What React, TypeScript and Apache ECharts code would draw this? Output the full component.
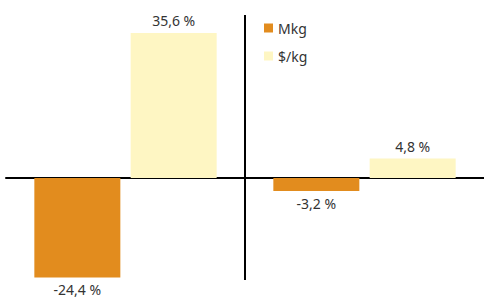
import React, { useEffect, useRef } from "react";
import * as echarts from "echarts";

const categories = ["A", "B"];
const seriesNames = ["Mkg", "$/kg"];
const mkgValues = [-24.4, -3.2];
const priceValues = [35.6, 4.8];
const colors = ["#E28C1E", "#FEF6C3"];
const dividerPosition = 1; // boundary between the two categories (value axis 0..2)

const fmt = (v: number) => `${v.toFixed(1).replace(".", ",")} %`;

export default function App() {
  const ref = useRef<HTMLDivElement>(null);
  useEffect(() => {
    if (!ref.current) return;
    const chart = echarts.init(ref.current, undefined, { renderer: "svg" });
    const mk = (vals: number[]) =>
      vals.map((v) => ({
        value: v,
        label: { position: v < 0 ? "bottom" : "top" },
      }));
    const labelCfg = {
      show: true,
      formatter: (p: any) => fmt(p.value),
      fontSize: 14,
      color: "#333",
      distance: 5,
      fontFamily: "Noto Sans",
    };
    chart.setOption({
      animation: false,
      textStyle: { fontFamily: "Noto Sans" },
      grid: { left: 6, width: 480, top: 15, bottom: 19, containLabel: false },
      legend: {
        orient: "vertical",
        left: 259,
        top: 16,
        itemWidth: 9,
        itemHeight: 9,
        itemGap: 14,
        icon: "rect",
        textStyle: { fontSize: 14, color: "#333", fontFamily: "Noto Sans" },
        data: seriesNames,
      },
      xAxis: [
        {
          type: "category",
          data: categories,
          axisLine: { show: true, onZero: true, lineStyle: { color: "#000", width: 2 } },
          axisTick: { show: false },
          axisLabel: { show: false },
          splitLine: { show: false },
        },
        {
          type: "value",
          min: 0,
          max: 2,
          show: false,
        },
      ],
      yAxis: {
        type: "value",
        min: -25,
        max: 40,
        show: false,
        splitLine: { show: false },
      },
      series: [
        {
          name: seriesNames[0],
          type: "bar",
          data: mk(mkgValues),
          itemStyle: { color: colors[0] },
          barWidth: 86,
          barGap: "12%",
          label: labelCfg,
        },
        {
          name: seriesNames[1],
          type: "bar",
          data: mk(priceValues),
          itemStyle: { color: colors[1] },
          barWidth: 86,
          barGap: "12%",
          label: labelCfg,
        },
        {
          type: "line",
          xAxisIndex: 1,
          data: [],
          markLine: {
            silent: true,
            symbol: "none",
            label: { show: false },
            lineStyle: { color: "#000", width: 2, type: "solid" },
            data: [{ xAxis: dividerPosition }],
          },
        },
      ],
    });
    return () => chart.dispose();
  }, []);
  return <div ref={ref} style={{ width: 484, height: 299, position: "absolute", left: 0, top: 0 }} />;
}
